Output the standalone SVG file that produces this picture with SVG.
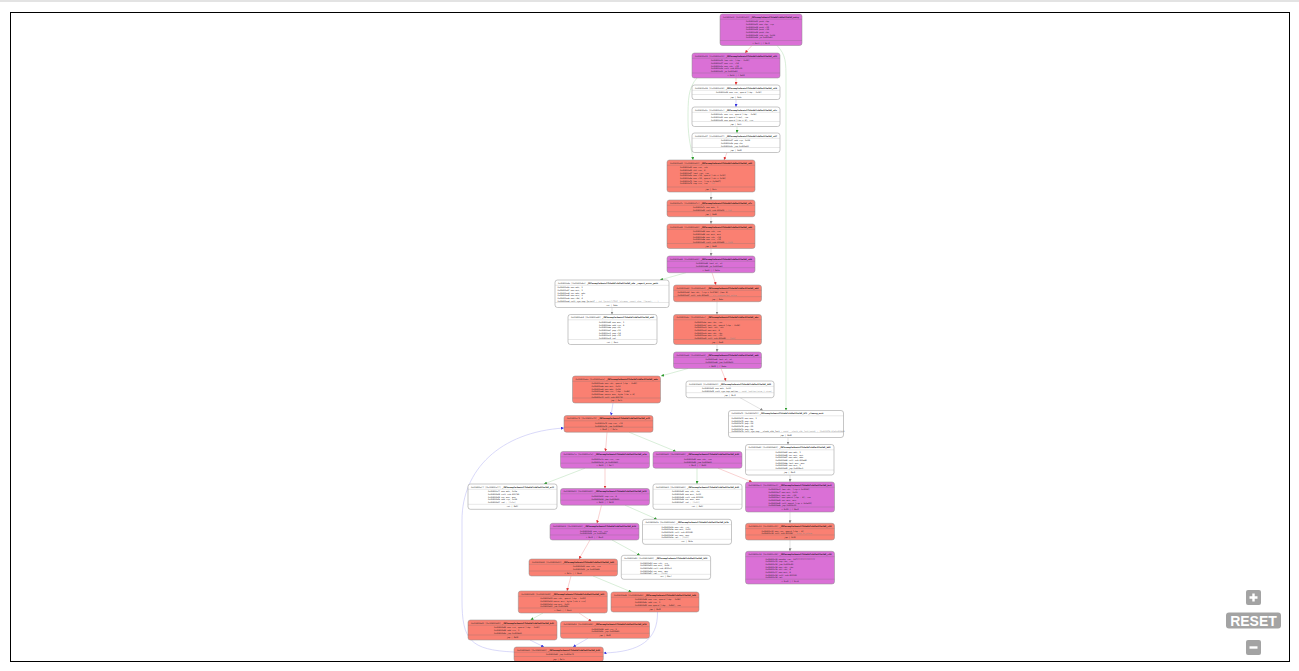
<svg xmlns="http://www.w3.org/2000/svg" width="1299" height="671" viewBox="0 0 1299 671">
<style>
.bx{stroke:#8c8c8c;stroke-width:0.5}
.p .bx{fill:#da70d6}
.r .bx{fill:#fa8072}
.w .bx{fill:#ffffff}
.sep{stroke:#6f6f6f;stroke-width:0.35;fill:none;opacity:0.7}
.w .sep{stroke:#bdbdbd;opacity:1}
text{font-family:"DejaVu Sans Mono","Liberation Mono",monospace}
.h{font-size:2px;fill:#2a2a2a}
.hn{fill:#111;font-weight:bold}
.b{font-size:2px;fill:#222}
.c{fill:#8a8a8a}
.f{font-size:1.9px;fill:#222;text-anchor:middle}
.e{fill:none;stroke-width:0.6}
.er{stroke:#f5b4b4}
.eg{stroke:#bfe3bf}
.eb{stroke:#c0c0f5}
.ek{stroke:#d0d0d0}
.btn{fill:#a3a3a3}
.bt{font-family:"Liberation Sans",Arial,sans-serif;font-weight:bold;font-size:14px;fill:#fff;text-anchor:middle}
</style>
<defs>
<marker id="ar" viewBox="0 0 6 6" refX="6" refY="3" markerWidth="3" markerHeight="3" markerUnits="userSpaceOnUse" orient="auto"><path d="M0,0L6,3L0,6z" fill="#e03030"/></marker>
<marker id="ag" viewBox="0 0 6 6" refX="6" refY="3" markerWidth="3" markerHeight="3" markerUnits="userSpaceOnUse" orient="auto"><path d="M0,0L6,3L0,6z" fill="#2a9a2a"/></marker>
<marker id="ab" viewBox="0 0 6 6" refX="6" refY="3" markerWidth="3" markerHeight="3" markerUnits="userSpaceOnUse" orient="auto"><path d="M0,0L6,3L0,6z" fill="#3030e0"/></marker>
<marker id="ak" viewBox="0 0 6 6" refX="6" refY="3" markerWidth="3" markerHeight="3" markerUnits="userSpaceOnUse" orient="auto"><path d="M0,0L6,3L0,6z" fill="#888"/></marker>
</defs>
<rect x="0" y="0" width="1299" height="671" fill="#ffffff"/>
<rect x="0" y="0.5" width="1299" height="1" fill="#c8c8c8"/>

<g id="connectors">
<path class="e er" marker-end="url(#ar)" d="M752,45.5L745,53"/>
<path class="e eg" marker-end="url(#ag)" d="M777,45.5C786,55 786,62 786,80L786,410.5"/>
<path class="e er" marker-end="url(#ar)" d="M736,78L736,85"/>
<path class="e eg" marker-end="url(#ag)" d="M697,78C688,88 688,100 688,120C688,140 692,150 693,160"/>
<path class="e eb" marker-end="url(#ab)" d="M736,99.5L736,107"/>
<path class="e eg" marker-end="url(#ag)" d="M737,126.5L737,133"/>
<path class="e er" marker-end="url(#ar)" d="M727,152.5L724,160"/>
<path class="e ek" marker-end="url(#ak)" d="M711,192L711,200"/>
<path class="e ek" marker-end="url(#ak)" d="M711,216.7L711,224"/>
<path class="e ek" marker-end="url(#ak)" d="M711,248.5L711,256"/>
<path class="e eg" marker-end="url(#ag)" d="M686,272.7L660,280"/>
<path class="e er" marker-end="url(#ar)" d="M712,272.7L716,285"/>
<path class="e ek" marker-end="url(#ak)" d="M612,307.5L612,314.5"/>
<path class="e ek" marker-end="url(#ak)" d="M717,301.7L717,314.5"/>
<path class="e ek" marker-end="url(#ak)" d="M717,344.5L717,352"/>
<path class="e eg" marker-end="url(#ag)" d="M688,368.5L661,376"/>
<path class="e er" marker-end="url(#ar)" d="M721,368.5L726,381"/>
<path class="e ek" marker-end="url(#ak)" d="M740,397.7L763,410.5"/>
<path class="e eb" marker-end="url(#ab)" d="M613,403L611,415.5"/>
<path class="e er" marker-end="url(#ar)" d="M607,432.2L605.5,451.5"/>
<path class="e eg" marker-end="url(#ag)" d="M629,432.2L676,451.5"/>
<path class="e ek" marker-end="url(#ak)" d="M788,437.5L788,444.5"/>
<path class="e eg" marker-end="url(#ag)" d="M585,468.2L544,484"/>
<path class="e er" marker-end="url(#ar)" d="M605,468.2L605,488.5"/>
<path class="e eg" marker-end="url(#ag)" d="M697,468.2L697,484"/>
<path class="e er" marker-end="url(#ar)" d="M718,468.2L752,482"/>
<path class="e ek" marker-end="url(#ak)" d="M790,475L790,482"/>
<path class="e er" marker-end="url(#ar)" d="M601.5,505.2L597,523.3"/>
<path class="e eg" marker-end="url(#ag)" d="M625,505.2L657,519.3"/>
<path class="e ek" marker-end="url(#ak)" d="M790,512L790,523.3"/>
<path class="e ek" marker-end="url(#ak)" d="M790,540L790,551.3"/>
<path class="e er" marker-end="url(#ar)" d="M590,540L579,559"/>
<path class="e eg" marker-end="url(#ag)" d="M612,540L640,555.3"/>
<path class="e er" marker-end="url(#ar)" d="M571,576L567,591"/>
<path class="e eg" marker-end="url(#ag)" d="M593,576L631.5,592"/>
<path class="e eg" marker-end="url(#ag)" d="M543,613L530.5,620"/>
<path class="e er" marker-end="url(#ar)" d="M579,613L591.5,621.3"/>
<path class="e eb" marker-end="url(#ab)" d="M530,640L544,647"/>
<path class="e eb" marker-end="url(#ab)" d="M588,638.3L573,647"/>
<path class="e eb" marker-end="url(#ab)" d="M657.5,612C658,640 640,652 603.5,653"/>
<path class="e eb" marker-end="url(#ab)" d="M514,652C470,650 462,640 462,600L462,520C462,470 500,432 564,428"/>
</g>

<g id="n1" class="p" transform="translate(720,14)">
<rect class="bx" width="82" height="31.5" rx="2.5"/>
<path class="sep" d="M0,5.3H82M0,26.5H82"/>
<text class="h" x="3" y="3.8" textLength="76" lengthAdjust="spacingAndGlyphs">0x00400a00  [0x00400a00]  <tspan class="hn">_ZN7example4main17h9a8b7c6d5e4f3a2bE_entry</tspan></text>
<text class="b"><tspan x="26" y="8.4">0x00400a00  push rbp</tspan><tspan x="26" y="11.07">0x00400a01  mov rbp, rsp</tspan><tspan x="26" y="13.74">0x00400a04  push r15</tspan><tspan x="26" y="16.41">0x00400a06  push r14</tspan><tspan x="26" y="19.08">0x00400a08  push rbx</tspan><tspan x="26" y="21.75">0x00400a09  sub rsp, 0x28</tspan><tspan x="26" y="24.42">0x00400a0d  je 0x400a60</tspan></text>
<text class="f" x="41" y="29.6">t 0a13 | f 0b70</text>
</g>

<g id="n2" class="p" transform="translate(692,53)">
<rect class="bx" width="88" height="25" rx="2.5"/>
<path class="sep" d="M0,5.3H88M0,20H88"/>
<text class="h" x="3" y="3.8" textLength="82" lengthAdjust="spacingAndGlyphs">0x00400a13  [0x00400a13]  <tspan class="hn">_ZN7example4main17h9a8b7c6d5e4f3a2bE_a13</tspan></text>
<text class="b"><tspan x="19" y="8.4">0x00400a13  lea rdi, [rbp - 0x30]</tspan><tspan x="19" y="11.07">0x00400a17  mov rsi, r14</tspan><tspan x="19" y="13.74">0x00400a1a  mov rdx, r15</tspan><tspan x="19" y="16.41">0x00400a1d  call sub.400c20</tspan><tspan x="19" y="19.08">0x00400a22  je 0x400a60</tspan></text>
<text class="f" x="44" y="23.1">t 0a28 | f 0a60</text>
</g>

<g id="n3" class="w" transform="translate(692,85)">
<rect class="bx" width="88" height="14.5" rx="2.5"/>
<path class="sep" d="M0,5.3H88M0,9.5H88"/>
<text class="h" x="3" y="3.8" textLength="82" lengthAdjust="spacingAndGlyphs">0x00400a28  [0x00400a28]  <tspan class="hn">_ZN7example4main17h9a8b7c6d5e4f3a2bE_a28</tspan></text>
<text class="b"><tspan x="24" y="8.4">0x00400a28  mov rax, qword [rbp - 0x30]</tspan></text>
<text class="f" x="44" y="12.6">jmp | 0a2c</text>
</g>

<g id="n4" class="w" transform="translate(692,107)">
<rect class="bx" width="88" height="19.5" rx="2.5"/>
<path class="sep" d="M0,5.3H88M0,14.5H88"/>
<text class="h" x="3" y="3.8" textLength="82" lengthAdjust="spacingAndGlyphs">0x00400a2c  [0x00400a2c]  <tspan class="hn">_ZN7example4main17h9a8b7c6d5e4f3a2bE_a2c</tspan></text>
<text class="b"><tspan x="19" y="8.4">0x00400a2c  mov rcx, qword [rbp - 0x28]</tspan><tspan x="19" y="11.07">0x00400a30  mov qword [rbx], rax</tspan><tspan x="19" y="13.74">0x00400a33  mov qword [rbx + 8], rcx</tspan></text>
<text class="f" x="44" y="17.6">jmp | 0a37</text>
</g>

<g id="n5" class="w" transform="translate(692,133)">
<rect class="bx" width="88" height="19.5" rx="2.5"/>
<path class="sep" d="M0,5.3H88M0,14.5H88"/>
<text class="h" x="3" y="3.8" textLength="82" lengthAdjust="spacingAndGlyphs">0x00400a37  [0x00400a37]  <tspan class="hn">_ZN7example4main17h9a8b7c6d5e4f3a2bE_a37</tspan></text>
<text class="b"><tspan x="29" y="8.4">0x00400a37  add rsp, 0x28</tspan><tspan x="29" y="11.07">0x00400a3b  pop rbx</tspan><tspan x="29" y="13.74">0x00400a3c  jmp 0x400a60</tspan></text>
<text class="f" x="44" y="17.6">jmp | 0a60</text>
</g>

<g id="n6" class="r" transform="translate(667,160)">
<rect class="bx" width="88" height="32" rx="2.5"/>
<path class="sep" d="M0,5.3H88M0,27H88"/>
<text class="h" x="3" y="3.8" textLength="82" lengthAdjust="spacingAndGlyphs">0x00400a60  [0x00400a60]  <tspan class="hn">_ZN7example4main17h9a8b7c6d5e4f3a2bE_a60</tspan></text>
<text class="b"><tspan x="13" y="8.4">0x00400a60  mov rax, rdi</tspan><tspan x="13" y="11.07">0x00400a63  shl rax, 4</tspan><tspan x="13" y="13.74">0x00400a67  test rax, rax</tspan><tspan x="13" y="16.41">0x00400a6a  mov r14, qword [rdi + 0x10]</tspan><tspan x="13" y="19.08">0x00400a6e  mov r15, qword [rdi + 0x18]</tspan><tspan x="13" y="21.75">0x00400a72  lea rcx, [rip + 0x2b87]</tspan><tspan x="13" y="24.42">0x00400a79  cmp rcx, rax         <tspan class="c">; 0x1</tspan></tspan></text>
<text class="f" x="44" y="30.1">jmp | 0a7c</text>
</g>

<g id="n7" class="r" transform="translate(667,200)">
<rect class="bx" width="88" height="16.7" rx="2.5"/>
<path class="sep" d="M0,5.3H88M0,11.7H88"/>
<text class="h" x="3" y="3.8" textLength="82" lengthAdjust="spacingAndGlyphs">0x00400a7c  [0x00400a7c]  <tspan class="hn">_ZN7example4main17h9a8b7c6d5e4f3a2bE_a7c</tspan></text>
<text class="b"><tspan x="26" y="8.4">0x00400a7c  mov edx, 1</tspan><tspan x="26" y="11.07">0x00400a81  call sub.400d10   <tspan class="c">; 0x8</tspan></tspan></text>
<text class="f" x="44" y="14.8">jmp | 0a86</text>
</g>

<g id="n8" class="r" transform="translate(667,224)">
<rect class="bx" width="88" height="24.5" rx="2.5"/>
<path class="sep" d="M0,5.3H88M0,19.5H88"/>
<text class="h" x="3" y="3.8" textLength="82" lengthAdjust="spacingAndGlyphs">0x00400a86  [0x00400a86]  <tspan class="hn">_ZN7example4main17h9a8b7c6d5e4f3a2bE_a86</tspan></text>
<text class="b"><tspan x="26" y="8.4">0x00400a86  mov rdi, rax</tspan><tspan x="26" y="11.07">0x00400a89  xor esi, esi</tspan><tspan x="26" y="13.74">0x00400a8b  mov rdx, r14</tspan><tspan x="26" y="16.41">0x00400a8e  mov rcx, r15</tspan><tspan x="26" y="19.08">0x00400a91  call sub.400d40  <tspan class="c">; 0x18</tspan></tspan></text>
<text class="f" x="44" y="22.6">jmp | 0a96</text>
</g>

<g id="n9" class="p" transform="translate(667,256)">
<rect class="bx" width="88" height="16.7" rx="2.5"/>
<path class="sep" d="M0,5.3H88M0,11.7H88"/>
<text class="h" x="3" y="3.8" textLength="82" lengthAdjust="spacingAndGlyphs">0x00400a96  [0x00400a96]  <tspan class="hn">_ZN7example4main17h9a8b7c6d5e4f3a2bE_a96</tspan></text>
<text class="b"><tspan x="29" y="8.4">0x00400a96  test al, al</tspan><tspan x="29" y="11.07">0x00400a98  je 0x400ab0</tspan></text>
<text class="f" x="44" y="14.8">t 0ab0 | f 0a9a</text>
</g>

<g id="n10" class="w" transform="translate(555,280)">
<rect class="bx" width="114" height="27.5" rx="2.5"/>
<path class="sep" d="M0,5.3H114M0,22.5H114"/>
<text class="h" x="3" y="3.8" textLength="100" lengthAdjust="spacingAndGlyphs">0x00400a9a  [0x00400a9a]  <tspan class="hn">_ZN7example4main17h9a8b7c6d5e4f3a2bE_a9a</tspan>  <tspan class="hn">_report_error_path</tspan></text>
<text class="b"><tspan x="2.5" y="8.4">0x00400a9a  mov edi, 2</tspan><tspan x="2.5" y="11.07">0x00400a9f  mov esi, 1</tspan><tspan x="2.5" y="13.74">0x00400aa4  xor edx, edx</tspan><tspan x="2.5" y="16.41">0x00400aa6  mov ecx, 3</tspan><tspan x="2.5" y="19.08">0x00400aab  mov r8d, 4</tspan><tspan x="2.5" y="21.75">0x00400aad  call sym.imp.fprintf  <tspan class="c">; int fprintf(FILE *stream, const char *format, ...)</tspan></tspan></text>
<text class="f" x="57" y="25.6">ret | 0ab5</text>
</g>

<g id="n11" class="r" transform="translate(673.5,285)">
<rect class="bx" width="88" height="16.7" rx="2.5"/>
<path class="sep" d="M0,5.3H88M0,11.7H88"/>
<text class="h" x="3" y="3.8" textLength="82" lengthAdjust="spacingAndGlyphs">0x00400ab0  [0x00400ab0]  <tspan class="hn">_ZN7example4main17h9a8b7c6d5e4f3a2bE_ab0</tspan></text>
<text class="b"><tspan x="4" y="8.4">0x00400ab0  lea rdi, [rip + 0x1f49] (len 8)</tspan><tspan x="4" y="11.07">0x00400ab7  call sub.400e00        <tspan class="c">; str.unexpected_value</tspan></tspan></text>
<text class="f" x="44" y="14.8">jmp | 0abc</text>
</g>

<g id="n12" class="w" transform="translate(568,314.5)">
<rect class="bx" width="89" height="30" rx="2.5"/>
<path class="sep" d="M0,5.3H89M0,25H89"/>
<text class="h" x="3" y="3.8" textLength="83" lengthAdjust="spacingAndGlyphs">0x00400ab5  [0x00400ab5]  <tspan class="hn">_ZN7example4main17h9a8b7c6d5e4f3a2bE_ab5</tspan></text>
<text class="b"><tspan x="31" y="8.4">0x00400ab5  mov eax, 1</tspan><tspan x="31" y="11.07">0x00400aba  add rsp, 8</tspan><tspan x="31" y="13.74">0x00400abe  pop rbx</tspan><tspan x="31" y="16.41">0x00400abf  pop r12</tspan><tspan x="31" y="19.08">0x00400ac1  pop r14</tspan><tspan x="31" y="21.75">0x00400ac3  pop r15</tspan><tspan x="31" y="24.42">0x00400ac5  ret</tspan></text>
<text class="f" x="44.5" y="28.1">ret | 0ac5</text>
</g>

<g id="n13" class="r" transform="translate(673.5,314.5)">
<rect class="bx" width="88" height="30" rx="2.5"/>
<path class="sep" d="M0,5.3H88M0,25H88"/>
<text class="h" x="3" y="3.8" textLength="82" lengthAdjust="spacingAndGlyphs">0x00400abc  [0x00400abc]  <tspan class="hn">_ZN7example4main17h9a8b7c6d5e4f3a2bE_abc</tspan></text>
<text class="b"><tspan x="21" y="8.4">0x00400abc  mov rbx, rax</tspan><tspan x="21" y="11.07">0x00400abf  mov rdi, qword [rbp - 0x38]</tspan><tspan x="21" y="13.74">0x00400ac3  test rdi, rdi</tspan><tspan x="21" y="16.41">0x00400ac6  mov esi, 8</tspan><tspan x="21" y="19.08">0x00400acb  mov rdx, rbx</tspan><tspan x="21" y="21.75">0x00400ace  mov rcx, r12</tspan><tspan x="21" y="24.42">0x00400ad1  call sub.400d40    <tspan class="c">; [0x8]</tspan></tspan></text>
<text class="f" x="44" y="28.1">jmp | 0ad6</text>
</g>

<g id="n14" class="p" transform="translate(673.5,352)">
<rect class="bx" width="88" height="16.5" rx="2.5"/>
<path class="sep" d="M0,5.3H88M0,11.5H88"/>
<text class="h" x="3" y="3.8" textLength="82" lengthAdjust="spacingAndGlyphs">0x00400ad6  [0x00400ad6]  <tspan class="hn">_ZN7example4main17h9a8b7c6d5e4f3a2bE_ad6</tspan></text>
<text class="b"><tspan x="32" y="8.4">0x00400ad6  test al, al</tspan><tspan x="32" y="11.07">0x00400ad8  jne 0x400b00</tspan></text>
<text class="f" x="44" y="14.6">t 0b00 | f 0ada</text>
</g>

<g id="n15" class="r" transform="translate(572.5,376)">
<rect class="bx" width="88" height="27" rx="2.5"/>
<path class="sep" d="M0,5.3H88M0,22H88"/>
<text class="h" x="3" y="3.8" textLength="82" lengthAdjust="spacingAndGlyphs">0x00400ada  [0x00400ada]  <tspan class="hn">_ZN7example4main17h9a8b7c6d5e4f3a2bE_ada</tspan></text>
<text class="b"><tspan x="19" y="8.4">0x00400ada  mov rdi, qword [rbp - 0x40]</tspan><tspan x="19" y="11.07">0x00400ade  mov esi, 0x10</tspan><tspan x="19" y="13.74">0x00400ae3  mov edx, 0x18</tspan><tspan x="19" y="16.41">0x00400ae8  lea rcx, [rbp - 0x48]</tspan><tspan x="19" y="19.08">0x00400aec  movzx eax, byte [rbx + 8]</tspan><tspan x="19" y="21.75">0x00400af0  call sub.400f20</tspan></text>
<text class="f" x="44" y="25.1">jmp | 0af5</text>
</g>

<g id="n16" class="w" transform="translate(686,381)">
<rect class="bx" width="88" height="16.7" rx="2.5"/>
<path class="sep" d="M0,5.3H88M0,11.7H88"/>
<text class="h" x="3" y="3.8" textLength="82" lengthAdjust="spacingAndGlyphs">0x00400b00  [0x00400b00]  <tspan class="hn">_ZN7example4main17h9a8b7c6d5e4f3a2bE_b00</tspan></text>
<text class="b"><tspan x="16" y="8.4">0x00400b00  mov edi, 0x20</tspan><tspan x="16" y="11.07">0x00400b05  call sym.imp.malloc  <tspan class="c">; void *malloc(size_t size)</tspan></tspan></text>
<text class="f" x="44" y="14.8">jmp | 0b70</text>
</g>

<g id="n17" class="w" transform="translate(728.5,410.5)">
<rect class="bx" width="115" height="27" rx="2.5"/>
<path class="sep" d="M0,5.3H115M0,22H115"/>
<text class="h" x="3" y="3.8" textLength="92" lengthAdjust="spacingAndGlyphs">0x00400b70  [0x00400b70]  <tspan class="hn">_ZN7example4main17h9a8b7c6d5e4f3a2bE_b70</tspan>  <tspan class="hn">_cleanup_exit</tspan></text>
<text class="b"><tspan x="3" y="8.4">0x00400b70  mov eax, 1</tspan><tspan x="3" y="11.07">0x00400b75  pop rbx</tspan><tspan x="3" y="13.74">0x00400b76  pop r14</tspan><tspan x="3" y="16.41">0x00400b78  pop r15</tspan><tspan x="3" y="19.08">0x00400b7a  pop rbp</tspan><tspan x="3" y="21.75">0x00400b7b  call sym.imp.__stack_chk_fail  <tspan class="c">; void __stack_chk_fail(void) ; [0x601078:8]=0x400b86</tspan></tspan></text>
<text class="f" x="57.5" y="25.1">jmp | 0b80</text>
</g>

<g id="n18" class="r" transform="translate(564,415.5)">
<rect class="bx" width="89" height="16.7" rx="2.5"/>
<path class="sep" d="M0,5.3H89M0,11.7H89"/>
<text class="h" x="3" y="3.8" textLength="83" lengthAdjust="spacingAndGlyphs">0x00400af5  [0x00400af5]  <tspan class="hn">_ZN7example4main17h9a8b7c6d5e4f3a2bE_af5</tspan></text>
<text class="b"><tspan x="31" y="8.4">0x00400af5  cmp rax, r12</tspan><tspan x="31" y="11.07">0x00400af8  jae 0x400b40</tspan></text>
<text class="f" x="44.5" y="14.8">t 0b40 | f 0afa</text>
</g>

<g id="n19" class="p" transform="translate(560.5,451.5)">
<rect class="bx" width="89" height="16.7" rx="2.5"/>
<path class="sep" d="M0,5.3H89M0,11.7H89"/>
<text class="h" x="3" y="3.8" textLength="83" lengthAdjust="spacingAndGlyphs">0x00400afa  [0x00400afa]  <tspan class="hn">_ZN7example4main17h9a8b7c6d5e4f3a2bE_afa</tspan></text>
<text class="b"><tspan x="31" y="8.4">0x00400afa  mov rcx, rax</tspan><tspan x="31" y="11.07">0x00400afd  jb 0x400b20</tspan></text>
<text class="f" x="44.5" y="14.8">t 0b20 | f 0aff</text>
</g>

<g id="n20" class="p" transform="translate(653,451.5)">
<rect class="bx" width="89" height="16.7" rx="2.5"/>
<path class="sep" d="M0,5.3H89M0,11.7H89"/>
<text class="h" x="3" y="3.8" textLength="83" lengthAdjust="spacingAndGlyphs">0x00400b40  [0x00400b40]  <tspan class="hn">_ZN7example4main17h9a8b7c6d5e4f3a2bE_b40</tspan></text>
<text class="b"><tspan x="31" y="8.4">0x00400b40  mov rdx, rax</tspan><tspan x="31" y="11.07">0x00400b43  jne 0x400b60</tspan></text>
<text class="f" x="44.5" y="14.8">t 0bc0 | f 0b60</text>
</g>

<g id="n21" class="w" transform="translate(745.5,444.5)">
<rect class="bx" width="88.5" height="30.5" rx="2.5"/>
<path class="sep" d="M0,5.3H88.5M0,25.5H88.5"/>
<text class="h" x="3" y="3.8" textLength="82" lengthAdjust="spacingAndGlyphs">0x00400b80  [0x00400b80]  <tspan class="hn">_ZN7example4main17h9a8b7c6d5e4f3a2bE_b80</tspan></text>
<text class="b"><tspan x="30" y="8.4">0x00400b80  mov edi, 1</tspan><tspan x="30" y="11.07">0x00400b85  xor esi, esi</tspan><tspan x="30" y="13.74">0x00400b87  mov edx, ebx</tspan><tspan x="30" y="16.41">0x00400b89  call sub.400e80</tspan><tspan x="30" y="19.08">0x00400b8e  test eax, eax</tspan><tspan x="30" y="21.75">0x00400b90  mov ecx, 2</tspan><tspan x="30" y="24.42">0x00400b95  jmp 0x400bc0</tspan></text>
<text class="f" x="44" y="28.6">jmp | 0bc0</text>
</g>

<g id="n22" class="w" transform="translate(468,484)">
<rect class="bx" width="89" height="25.3" rx="2.5"/>
<path class="sep" d="M0,5.3H89M0,20.3H89"/>
<text class="h" x="3" y="3.8" textLength="83" lengthAdjust="spacingAndGlyphs">0x00400aff  [0x00400aff]  <tspan class="hn">_ZN7example4main17h9a8b7c6d5e4f3a2bE_aff</tspan></text>
<text class="b"><tspan x="20" y="8.4">0x00400aff  mov edi, 0x2e</tspan><tspan x="20" y="11.07">0x00400b04  call sub.400f80</tspan><tspan x="20" y="13.74">0x00400b09  xor eax, eax</tspan><tspan x="20" y="16.41">0x00400b0b  add rsp, 0x38</tspan><tspan x="20" y="19.08">0x00400b0f  ret              <tspan class="c">; [0x2e]</tspan></tspan></text>
<text class="f" x="44.5" y="23.4">ret | 0b0f</text>
</g>

<g id="n23" class="p" transform="translate(560.5,488.5)">
<rect class="bx" width="89" height="16.7" rx="2.5"/>
<path class="sep" d="M0,5.3H89M0,11.7H89"/>
<text class="h" x="3" y="3.8" textLength="83" lengthAdjust="spacingAndGlyphs">0x00400b20  [0x00400b20]  <tspan class="hn">_ZN7example4main17h9a8b7c6d5e4f3a2bE_b20</tspan></text>
<text class="b"><tspan x="31" y="8.4">0x00400b20  cmp rcx, 8</tspan><tspan x="31" y="11.07">0x00400b24  jbe 0x400b30</tspan></text>
<text class="f" x="44.5" y="14.8">t 0b26 | f 0b30</text>
</g>

<g id="n24" class="w" transform="translate(653,484)">
<rect class="bx" width="89" height="25.3" rx="2.5"/>
<path class="sep" d="M0,5.3H89M0,20.3H89"/>
<text class="h" x="3" y="3.8" textLength="83" lengthAdjust="spacingAndGlyphs">0x00400b60  [0x00400b60]  <tspan class="hn">_ZN7example4main17h9a8b7c6d5e4f3a2bE_b60</tspan></text>
<text class="b"><tspan x="19" y="8.4">0x00400b60  mov rdi, rbx</tspan><tspan x="19" y="11.07">0x00400b63  mov esi, 0x20</tspan><tspan x="19" y="13.74">0x00400b68  call sub.401000</tspan><tspan x="19" y="16.41">0x00400b6d  xor eax, eax</tspan><tspan x="19" y="19.08">0x00400b6f  ret              <tspan class="c">; [0x20]</tspan></tspan></text>
<text class="f" x="44.5" y="23.4">ret | 0b6f</text>
</g>

<g id="n25" class="p" transform="translate(745.5,482)">
<rect class="bx" width="89" height="30" rx="2.5"/>
<path class="sep" d="M0,5.3H89M0,25H89"/>
<text class="h" x="3" y="3.8" textLength="83" lengthAdjust="spacingAndGlyphs">0x00400bc0  [0x00400bc0]  <tspan class="hn">_ZN7example4main17h9a8b7c6d5e4f3a2bE_bc0</tspan></text>
<text class="b"><tspan x="23" y="8.4">0x00400bc0  lea rdi, [rip + 0x1234]</tspan><tspan x="23" y="11.07">0x00400bc7  mov esi, 0x13</tspan><tspan x="23" y="13.74">0x00400bcc  mov rdx, r14</tspan><tspan x="23" y="16.41">0x00400bcf  mov qword [rbp - 8], rax</tspan><tspan x="23" y="19.08">0x00400bd3  xor ecx, ecx</tspan><tspan x="23" y="21.75">0x00400bd5  call qword [rip + 0x2e25]</tspan><tspan x="23" y="24.42">0x00400bdb  jmp 0x400c00</tspan></text>
<text class="f" x="44.5" y="28.1">t 0c00 | f 0be0</text>
</g>

<g id="n26" class="p" transform="translate(550,523.3)">
<rect class="bx" width="89" height="16.7" rx="2.5"/>
<path class="sep" d="M0,5.3H89M0,11.7H89"/>
<text class="h" x="3" y="3.8" textLength="83" lengthAdjust="spacingAndGlyphs">0x00400b26  [0x00400b26]  <tspan class="hn">_ZN7example4main17h9a8b7c6d5e4f3a2bE_b26</tspan></text>
<text class="b"><tspan x="30" y="8.4">0x00400b26  mov rsi, rcx</tspan><tspan x="30" y="11.07">0x00400b29  ja 0x400b50</tspan></text>
<text class="f" x="44.5" y="14.8">t 0b30 | f 0b50</text>
</g>

<g id="n27" class="w" transform="translate(642.5,519.3)">
<rect class="bx" width="89" height="25" rx="2.5"/>
<path class="sep" d="M0,5.3H89M0,20H89"/>
<text class="h" x="3" y="3.8" textLength="83" lengthAdjust="spacingAndGlyphs">0x00400b2b  [0x00400b2b]  <tspan class="hn">_ZN7example4main17h9a8b7c6d5e4f3a2bE_b2b</tspan></text>
<text class="b"><tspan x="19" y="8.4">0x00400b2b  mov rdi, rsi</tspan><tspan x="19" y="11.07">0x00400b2e  mov esi, 0x30</tspan><tspan x="19" y="13.74">0x00400b33  call sub.401040</tspan><tspan x="19" y="16.41">0x00400b38  xor eax, eax</tspan><tspan x="19" y="19.08">0x00400b3a  ret              <tspan class="c">; [0x30]</tspan></tspan></text>
<text class="f" x="44.5" y="23.1">ret | 0b3a</text>
</g>

<g id="n28" class="r" transform="translate(745.5,523.3)">
<rect class="bx" width="89" height="16.7" rx="2.5"/>
<path class="sep" d="M0,5.3H89M0,11.7H89"/>
<text class="h" x="3" y="3.8" textLength="83" lengthAdjust="spacingAndGlyphs">0x00400c00  [0x00400c00]  <tspan class="hn">_ZN7example4main17h9a8b7c6d5e4f3a2bE_c00</tspan></text>
<text class="b"><tspan x="16" y="8.4">0x00400c00  mov rax, qword [rbp - 8]</tspan><tspan x="16" y="11.07">0x00400c04  call sub.401080      <tspan class="c">; drop_in_place</tspan></tspan></text>
<text class="f" x="44.5" y="14.8">jmp | 0c09</text>
</g>

<g id="n29" class="p" transform="translate(745.5,551.3)">
<rect class="bx" width="89" height="32.7" rx="2.5"/>
<path class="sep" d="M0,5.3H89M0,27.9H89"/>
<text class="h" x="3" y="3.8" textLength="83" lengthAdjust="spacingAndGlyphs">0x00400c09  [0x00400c09]  <tspan class="hn">_ZN7example4main17h9a8b7c6d5e4f3a2bE_c09</tspan></text>
<text class="b"><tspan x="20" y="8.4">0x00400c09  movabs rax, 0x7fffffffffffffff</tspan><tspan x="20" y="11.07">0x00400c13  cmp rbx, rax</tspan><tspan x="20" y="13.74">0x00400c16  jae 0x400c40</tspan><tspan x="20" y="16.41">0x00400c18  mov rdi, rbx</tspan><tspan x="20" y="19.08">0x00400c1b  shl rdi, 4</tspan><tspan x="20" y="21.75">0x00400c1f  mov esi, 8</tspan><tspan x="20" y="24.42">0x00400c24  call sub.401100</tspan><tspan x="20" y="27.09">0x00400c29  ret</tspan></text>
<text class="f" x="44.5" y="30.8">t 0c40 | f 0c18</text>
</g>

<g id="n30" class="r" transform="translate(529,559)">
<rect class="bx" width="88.5" height="17" rx="2.5"/>
<path class="sep" d="M0,5.3H88.5M0,12H88.5"/>
<text class="h" x="3" y="3.8" textLength="82" lengthAdjust="spacingAndGlyphs">0x00400b30  [0x00400b30]  <tspan class="hn">_ZN7example4main17h9a8b7c6d5e4f3a2bE_b30</tspan></text>
<text class="b"><tspan x="44" y="8.4">0x00400b30  mov rdx, rcx</tspan><tspan x="44" y="11.07">0x00400b33  je 0x400b48</tspan></text>
<text class="f" x="44" y="15.1">t 0b35 | f 0b48</text>
</g>

<g id="n31" class="w" transform="translate(621.3,555.3)">
<rect class="bx" width="89.3" height="24" rx="2.5"/>
<path class="sep" d="M0,5.3H89.3M0,19H89.3"/>
<text class="h" x="3" y="3.8" textLength="83" lengthAdjust="spacingAndGlyphs">0x00400b50  [0x00400b50]  <tspan class="hn">_ZN7example4main17h9a8b7c6d5e4f3a2bE_b50</tspan></text>
<text class="b"><tspan x="19" y="8.4">0x00400b50  mov rdi, rcx</tspan><tspan x="19" y="11.07">0x00400b53  mov esi, 0x28</tspan><tspan x="19" y="13.74">0x00400b58  call sub.4010c0</tspan><tspan x="19" y="16.41">0x00400b5d  xor eax, eax</tspan><tspan x="19" y="18.4">0x00400b5f  ret              <tspan class="c">; [0x28]</tspan></tspan></text>
<text class="f" x="44.6" y="22.2">ret | 0b5f</text>
</g>

<g id="n32" class="r" transform="translate(518.3,591)">
<rect class="bx" width="89" height="22" rx="2.5"/>
<path class="sep" d="M0,5.3H89M0,17H89"/>
<text class="h" x="3" y="3.8" textLength="83" lengthAdjust="spacingAndGlyphs">0x00400b35  [0x00400b35]  <tspan class="hn">_ZN7example4main17h9a8b7c6d5e4f3a2bE_b35</tspan></text>
<text class="b"><tspan x="22" y="8.4">0x00400b35  mov rdi, qword [rbp - 0x50]</tspan><tspan x="22" y="11.07">0x00400b39  movzx esi, byte [rdi + rcx]</tspan><tspan x="22" y="13.74">0x00400b3d  cmp esi, 0x20</tspan><tspan x="22" y="16.2">0x00400b40  jne 0x400b58</tspan></text>
<text class="f" x="44.5" y="20.1">t 0b42 | f 0b58</text>
</g>

<g id="n33" class="r" transform="translate(611,592)">
<rect class="bx" width="88" height="20" rx="2.5"/>
<path class="sep" d="M0,5.3H88M0,15H88"/>
<text class="h" x="3" y="3.8" textLength="82" lengthAdjust="spacingAndGlyphs">0x00400b48  [0x00400b48]  <tspan class="hn">_ZN7example4main17h9a8b7c6d5e4f3a2bE_b48</tspan></text>
<text class="b"><tspan x="24" y="8.4">0x00400b48  mov rax, qword [rbp - 0x58]</tspan><tspan x="24" y="11.07">0x00400b4c  add rax, 1</tspan><tspan x="24" y="13.74">0x00400b50  mov qword [rbp - 0x58], rax</tspan></text>
<text class="f" x="44" y="18.1">jmp | 0b90</text>
</g>

<g id="n34" class="r" transform="translate(468,620)">
<rect class="bx" width="89" height="20" rx="2.5"/>
<path class="sep" d="M0,5.3H89M0,15H89"/>
<text class="h" x="3" y="3.8" textLength="83" lengthAdjust="spacingAndGlyphs">0x00400b42  [0x00400b42]  <tspan class="hn">_ZN7example4main17h9a8b7c6d5e4f3a2bE_b42</tspan></text>
<text class="b"><tspan x="26" y="8.4">0x00400b42  mov rsi, qword [rbp - 0x60]</tspan><tspan x="26" y="11.07">0x00400b46  add rcx, 1</tspan><tspan x="26" y="13.74">0x00400b4a  jmp 0x400b90</tspan></text>
<text class="f" x="44.5" y="18.1">jmp | 0b90</text>
</g>

<g id="n35" class="r" transform="translate(560.5,621.3)">
<rect class="bx" width="89" height="17" rx="2.5"/>
<path class="sep" d="M0,5.3H89M0,12H89"/>
<text class="h" x="3" y="3.8" textLength="83" lengthAdjust="spacingAndGlyphs">0x00400b58  [0x00400b58]  <tspan class="hn">_ZN7example4main17h9a8b7c6d5e4f3a2bE_b58</tspan></text>
<text class="b"><tspan x="31" y="8.4">0x00400b58  add rcx, 2</tspan><tspan x="31" y="11.07">0x00400b5c  jmp 0x400b90</tspan></text>
<text class="f" x="44.5" y="15.1">jmp | 0b90</text>
</g>

<g id="n36" class="r" transform="translate(514,647)">
<rect class="bx" width="89.3" height="14.5" rx="2.5"/>
<path class="sep" d="M0,5.3H89.3M0,9.5H89.3"/>
<text class="h" x="3" y="3.8" textLength="83" lengthAdjust="spacingAndGlyphs">0x00400b90  [0x00400b90]  <tspan class="hn">_ZN7example4main17h9a8b7c6d5e4f3a2bE_b90</tspan></text>
<text class="b"><tspan x="32" y="8.4">0x00400b90  jmp 0x400af5</tspan></text>
<text class="f" x="44.6" y="12.6">jmp | 0af5</text>
</g>

<rect x="10.5" y="12.5" width="1279" height="649" fill="none" stroke="#000" stroke-width="1"/>

<g id="zoom-controls">
<rect class="btn" x="1246" y="590" width="15" height="15" rx="2"/>
<path d="M1253.5,593.5V601.5M1249.5,597.5H1257.5" stroke="#fff" stroke-width="2.4"/>
<rect class="btn" x="1226" y="612.5" width="55" height="16" rx="3"/>
<text class="bt" x="1253.5" y="625.5">RESET</text>
<rect class="btn" x="1246" y="640" width="15" height="15" rx="2"/>
<path d="M1249.5,647.5H1257.5" stroke="#fff" stroke-width="2.4"/>
</g>
</svg>
